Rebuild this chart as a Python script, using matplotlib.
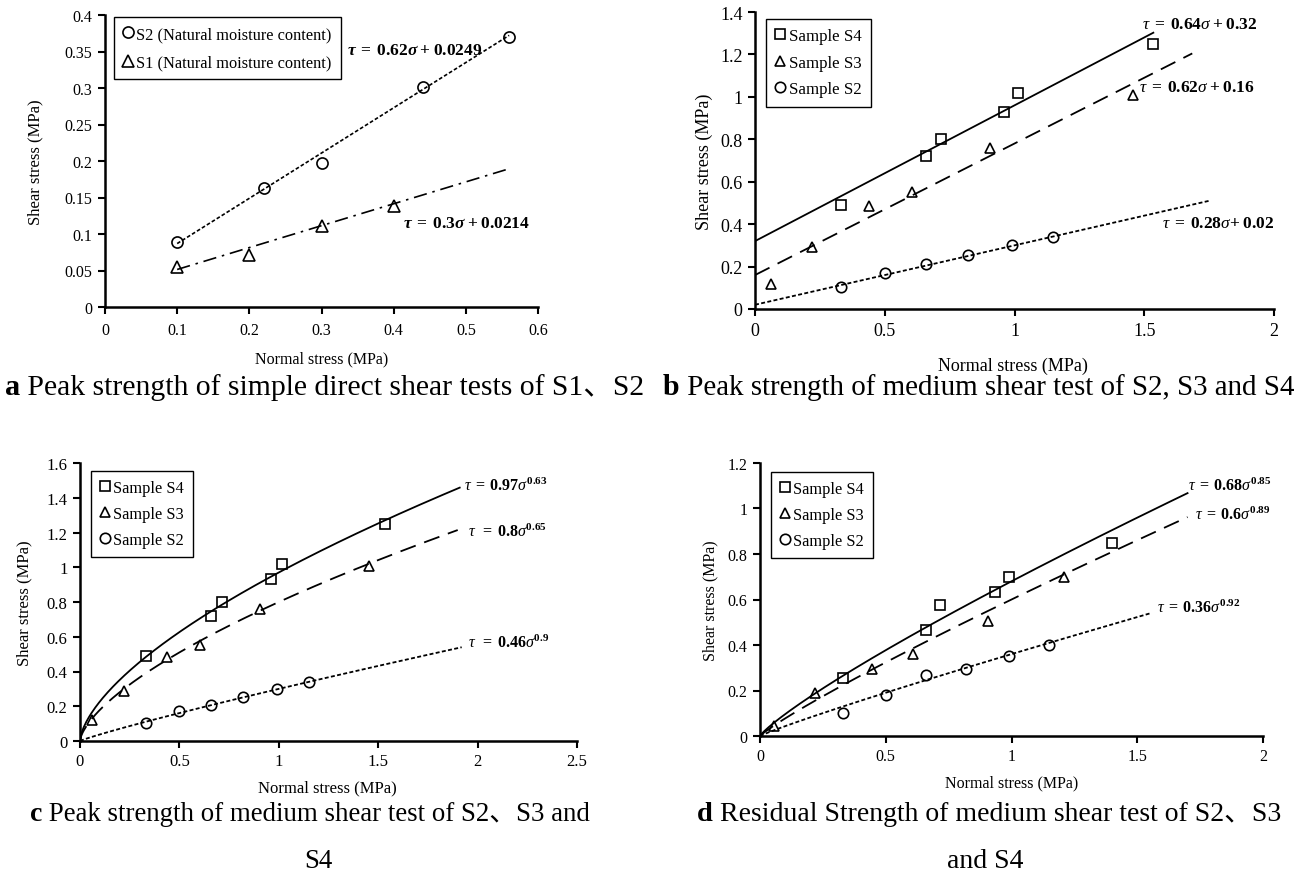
import numpy as np
import matplotlib
matplotlib.use('Agg')
import matplotlib.pyplot as plt
from matplotlib.lines import Line2D
from matplotlib.ticker import MultipleLocator

plt.rcParams['font.family'] = ['Liberation Serif', 'Noto Sans CJK SC']
plt.rcParams['mathtext.fontset'] = 'custom'
plt.rcParams['mathtext.rm'] = 'Liberation Serif'
plt.rcParams['mathtext.it'] = 'Liberation Serif:italic'
plt.rcParams['mathtext.bf'] = 'Liberation Serif:bold'
plt.rcParams['mathtext.bfit'] = 'Liberation Serif:bold:italic'

# ---------------- data ----------------
# Panel a: simple direct shear tests
a_s2_sigma = [0.10, 0.22, 0.30, 0.44, 0.56]
a_s2_tau = [0.089, 0.163, 0.197, 0.302, 0.370]
a_s1_sigma = [0.10, 0.20, 0.30, 0.40]
a_s1_tau = [0.055, 0.071, 0.111, 0.139]
a_fit_s2 = [0.62, 0.0249]      # slope, intercept
a_fit_s1 = [0.30, 0.0214]
a_fit_span = [0.10, 0.56]
a_labels = ['S2 (Natural moisture content)', 'S1 (Natural moisture content)']

# Panels b & c: peak strength, medium shear test
pk_s4_sigma = [0.33, 0.66, 0.715, 0.96, 1.015, 1.535]
pk_s4_tau = [0.49, 0.72, 0.80, 0.93, 1.02, 1.25]
pk_s3_sigma = [0.06, 0.22, 0.44, 0.605, 0.905, 1.455]
pk_s3_tau = [0.12, 0.29, 0.485, 0.55, 0.76, 1.01]
pk_s2_sigma = [0.33, 0.50, 0.66, 0.82, 0.99, 1.15]
pk_s2_tau = [0.105, 0.17, 0.21, 0.255, 0.30, 0.34]

b_fit_s4 = [0.64, 0.32]
b_fit_s3 = [0.62, 0.16]
b_fit_s2 = [0.28, 0.02]
b_fit_end = [1.535, 1.685, 1.755]   # S4, S3, S2

c_fit_s4 = [0.97, 0.63]   # coefficient, exponent (as drawn)
c_fit_s3 = [0.80, 0.65]
c_fit_s2 = [0.30, 0.90]
c_fit_end = [1.91, 1.90, 1.92]

# Panel d: residual strength
rs_s4_sigma = [0.33, 0.66, 0.715, 0.935, 0.99, 1.40]
rs_s4_tau = [0.255, 0.465, 0.575, 0.635, 0.70, 0.85]
rs_s3_sigma = [0.055, 0.22, 0.445, 0.61, 0.905, 1.21]
rs_s3_tau = [0.045, 0.19, 0.295, 0.36, 0.505, 0.70]
rs_s2_sigma = [0.33, 0.50, 0.66, 0.82, 0.99, 1.15]
rs_s2_tau = [0.10, 0.18, 0.27, 0.295, 0.35, 0.40]
d_fit_s4 = [0.68, 0.85]
d_fit_s3 = [0.60, 0.89]
d_fit_s2 = [0.36, 0.92]
d_fit_end = [1.70, 1.70, 1.55]

sample_labels = ['Sample S4', 'Sample S3', 'Sample S2']

captions = [
    ('a', ' Peak strength of simple direct shear tests of S1、S2', None),
    ('b', ' Peak strength of medium shear test of S2, S3 and S4', None),
    ('c', ' Peak strength of medium shear test of S2、S3 and', 'S4'),
    ('d', ' Residual Strength of medium shear test of S2、S3', 'and S4'),
]

# ---------------- figure ----------------
W, H = 1311, 879
fig = plt.figure(figsize=(W / 100, H / 100), dpi=100)


def add_ax(l, r, t, b):
    return fig.add_axes([l / W, 1 - b / H, (r - l) / W, (b - t) / H])


def style(ax, xlim, ylim, xstep, ystep, fs, pad=4):
    ax.set_xlim(*xlim)
    ax.set_ylim(*ylim)
    for s in ('top', 'right'):
        ax.spines[s].set_visible(False)
    for s in ('left', 'bottom'):
        ax.spines[s].set_linewidth(1.8)
    ax.xaxis.set_major_locator(MultipleLocator(xstep))
    ax.yaxis.set_major_locator(MultipleLocator(ystep))
    fmt = plt.FuncFormatter(lambda v, p: '%g' % round(v, 4))
    ax.xaxis.set_major_formatter(fmt)
    ax.yaxis.set_major_formatter(fmt)
    ax.tick_params(direction='out', length=5, width=1.5, labelsize=fs, pad=4)
    ax.tick_params(axis='x', pad=pad)
    ax.patch.set_alpha(0)


DOT = (0, (2.2, 1.3))
DASH = (0, (9, 5))
DASHDOT = (0, (8, 3.5, 1.5, 3.5))
mk = dict(mfc='none', mec='black', mew=1.2, ls='none')
legkw = dict(loc='upper left', borderaxespad=0, fancybox=False, framealpha=1,
             edgecolor='black', handlelength=0.6, handletextpad=0.2,
             borderpad=0.55)

# ---- panel a ----
axa = add_ax(105, 538, 16, 308)
style(axa, (0, 0.6), (0, 0.4), 0.1, 0.05, 11.5, pad=6)
xs = np.linspace(a_fit_span[0], a_fit_span[1], 50)
axa.plot(xs, a_fit_s2[0] * xs + a_fit_s2[1], color='black', lw=1.2, ls=DOT)
axa.plot(xs, a_fit_s1[0] * xs + a_fit_s1[1], color='black', lw=1.2, ls=DASHDOT)
axa.plot(a_s2_sigma, a_s2_tau, marker='o', ms=8, **mk)
axa.plot(a_s1_sigma, a_s1_tau, marker='^', ms=8, **mk)
axa.text(0.335, 0.352, r'$\mathbfit{\tau}\;\mathbf{=\;0.62}\mathbfit{\sigma}\;\mathbf{+\;0.0249}$',
         fontsize=12.5, ha='left', va='center')
axa.text(0.413, 0.115, r'$\mathbfit{\tau}\;\mathbf{=\;0.3}\mathbfit{\sigma}\;\mathbf{+\;0.0214}$',
         fontsize=12.5, ha='left', va='center')
axa.set_xlabel('Normal stress (MPa)', fontsize=11.5)
axa.set_ylabel('Shear stress (MPa)', fontsize=12)
axa.xaxis.set_label_coords(0.5, -0.15)
axa.yaxis.set_label_coords(-0.143, 0.5)
ha_ = [Line2D([], [], marker='o', ms=8, **mk), Line2D([], [], marker='^', ms=8, **mk)]
axa.legend(ha_, a_labels, bbox_to_anchor=(114 / W, 1 - 18 / H), bbox_transform=fig.transFigure,
           fontsize=11.8, labelspacing=0.75, **legkw)

# ---- panel b ----
axb = add_ax(755, 1274, 13, 310)
style(axb, (0, 2), (0, 1.4), 0.5, 0.2, 13)
for fit, end, ls in zip([b_fit_s4, b_fit_s3, b_fit_s2], b_fit_end, ['-', DASH, DOT]):
    xs = np.linspace(0, end, 50)
    axb.plot(xs, fit[0] * xs + fit[1], color='black', lw=1.3, ls=ls)
axb.plot(pk_s4_sigma, pk_s4_tau, marker='s', ms=6.5, **mk)
axb.plot(pk_s3_sigma, pk_s3_tau, marker='^', ms=7.5, **mk)
axb.plot(pk_s2_sigma, pk_s2_tau, marker='o', ms=7.5, **mk)
axb.text(1.49, 1.345, r'$\tau\;\mathbf{=\;0.64}\sigma\;\mathbf{+\;0.32}$', fontsize=12.5, ha='left', va='center')
axb.text(1.48, 1.047, r'$\tau\;\mathbf{=\;0.62}\sigma\;\mathbf{+\;0.16}$', fontsize=12.5, ha='left', va='center')
axb.text(1.57, 0.405, r'$\tau\;\mathbf{=\;0.28}\sigma\mathbf{+\;0.02}$', fontsize=12.5, ha='left', va='center')
axb.set_xlabel('Normal stress (MPa)', fontsize=13)
axb.set_ylabel('Shear stress (MPa)', fontsize=13)
axb.xaxis.set_label_coords(0.497, -0.16)
axb.yaxis.set_label_coords(-0.08, 0.5)
hb = [Line2D([], [], marker='s', ms=6.5, **mk), Line2D([], [], marker='^', ms=7.5, **mk),
      Line2D([], [], marker='o', ms=7.5, **mk)]
axb.legend(hb, sample_labels, bbox_to_anchor=(766 / W, 1 - 20 / H), bbox_transform=fig.transFigure,
           fontsize=12.2, labelspacing=0.62, **legkw)

# ---- panel c ----
axc = add_ax(80, 577, 464, 742)
style(axc, (0, 2.5), (0, 1.6), 0.5, 0.2, 12)
for fit, end, ls in zip([c_fit_s4, c_fit_s3, c_fit_s2], c_fit_end, ['-', DASH, DOT]):
    xs = np.linspace(0, end, 300)
    axc.plot(xs, fit[0] * xs ** fit[1], color='black', lw=1.3, ls=ls)
axc.plot(pk_s4_sigma, pk_s4_tau, marker='s', ms=6.5, **mk)
axc.plot(pk_s3_sigma, pk_s3_tau, marker='^', ms=7.5, **mk)
axc.plot(pk_s2_sigma, pk_s2_tau, marker='o', ms=7.5, **mk)
axc.text(1.93, 1.47, r'$\tau\;\mathbf{=\;0.97}\sigma^{\mathbf{0.63}}$', fontsize=11.5, ha='left', va='center')
axc.text(1.95, 1.205, r'$\tau\;\;\mathbf{=\;0.8}\sigma^{\mathbf{0.65}}$', fontsize=11.5, ha='left', va='center')
axc.text(1.95, 0.565, r'$\tau\;\;\mathbf{=\;0.46}\sigma^{\mathbf{0.9}}$', fontsize=11.5, ha='left', va='center')
axc.set_xlabel('Normal stress (MPa)', fontsize=12)
axc.set_ylabel('Shear stress (MPa)', fontsize=12)
axc.xaxis.set_label_coords(0.497, -0.137)
axc.yaxis.set_label_coords(-0.095, 0.5)
axc.legend(hb, sample_labels, bbox_to_anchor=(91 / W, 1 - 472 / H), bbox_transform=fig.transFigure,
           fontsize=11.8, labelspacing=0.6, **legkw)

# ---- panel d ----
axd = add_ax(760, 1263, 464, 737)
style(axd, (0, 2), (0, 1.2), 0.5, 0.2, 11.5)
for fit, end, ls in zip([d_fit_s4, d_fit_s3, d_fit_s2], d_fit_end, ['-', DASH, DOT]):
    xs = np.linspace(0, end, 300)
    axd.plot(xs, fit[0] * xs ** fit[1], color='black', lw=1.3, ls=ls)
axd.plot(rs_s4_sigma, rs_s4_tau, marker='s', ms=6.5, **mk)
axd.plot(rs_s3_sigma, rs_s3_tau, marker='^', ms=7.5, **mk)
axd.plot(rs_s2_sigma, rs_s2_tau, marker='o', ms=7.5, **mk)
axd.text(1.70, 1.10, r'$\tau\;\mathbf{=\;0.68}\sigma^{\mathbf{0.85}}$', fontsize=11.5, ha='left', va='center')
axd.text(1.73, 0.976, r'$\tau\;\mathbf{=\;0.6}\sigma^{\mathbf{0.89}}$', fontsize=11.5, ha='left', va='center')
axd.text(1.58, 0.567, r'$\tau\;\mathbf{=\;0.36}\sigma^{\mathbf{0.92}}$', fontsize=11.5, ha='left', va='center')
axd.set_xlabel('Normal stress (MPa)', fontsize=11.5)
axd.set_ylabel('Shear stress (MPa)', fontsize=11.5)
axd.xaxis.set_label_coords(0.5, -0.139)
axd.yaxis.set_label_coords(-0.082, 0.5)
axd.legend(hb, sample_labels, bbox_to_anchor=(771 / W, 1 - 473 / H), bbox_transform=fig.transFigure,
           fontsize=11.8, labelspacing=0.6, **legkw)

# ---- captions ----
cap = fig.add_axes([0, 0, 1, 1], zorder=-1)
cap.set_xlim(0, W)
cap.set_ylim(H, 0)
cap.set_axis_off()
cap_pos = [(5, 388), (663, 388), (30, 815), (697, 815)]
cap_size = [21.3, 20.9, 19.4, 20.0]
cap_line2 = [None, None, (318, 862), (985, 862)]
for (letter, rest, second), (x, y), fs, l2 in zip(captions, cap_pos, cap_size, cap_line2):
    t = cap.text(x, y, letter, fontsize=fs + 0.5, fontweight='bold', ha='left', va='center')
    cap.annotate(rest, xy=(1, 0), xycoords=t, ha='left', va='bottom', fontsize=fs)
    if second:
        cap.text(l2[0], l2[1], second, fontsize=fs, ha='center', va='center')

fig.savefig('out.png', dpi=100)
